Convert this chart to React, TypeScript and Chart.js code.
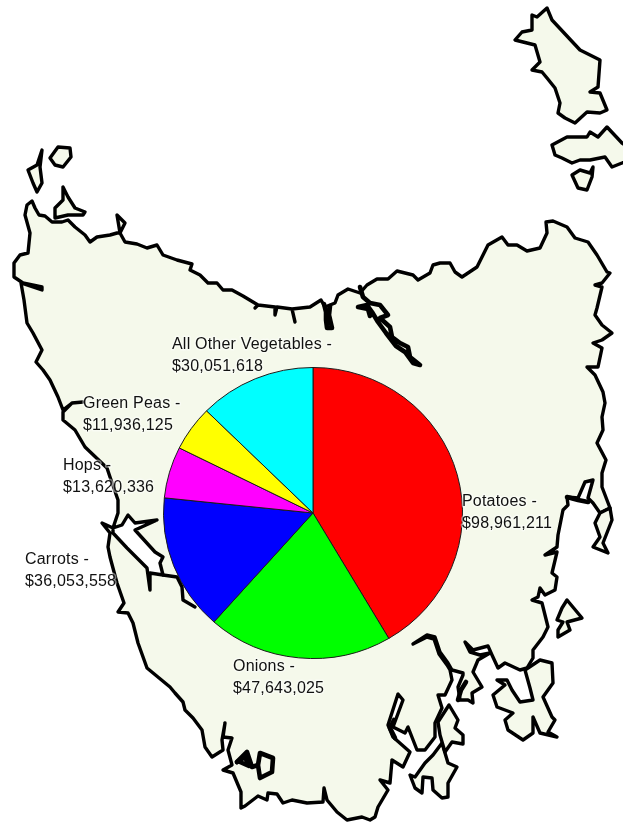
import React, { useEffect, useRef } from "react";
import { Chart, registerables } from "chart.js";

Chart.register(...registerables);

const categories = ["Potatoes", "Onions", "Carrots", "Hops", "Green Peas", "All Other Vegetables"];
const seriesValues = [98961211, 47643025, 36053558, 13620336, 11936125, 30051618];
const sliceColors = ["#ff0000", "#00ff00", "#0000ff", "#ff00ff", "#ffff00", "#00ffff"];
const labelAnchors: [number, number][] = [
  [462, 506], [233, 671], [25, 564], [63, 470], [83, 408], [172, 349],
];

type Pt = [number, number];

const mainland: Pt[] = [
  [32,201],[35,208],[39,215],[45,216],[52,222],[62,222],[68,220],[75,227],[85,235],[90,242],[97,237],[110,235],[117,233],[120,233],[125,223],[117,215],[120,233],[125,242],[137,244],[147,248],[157,245],[163,255],[177,260],[192,264],[190,270],[200,275],[208,283],[217,283],[223,290],[232,290],[243,296],[258,305],[255,308],[258,305],[275,307],[275,315],[277,307],[292,309],[295,322],[292,309],[310,307],[321,300],[325,307],[335,303],[338,295],[348,289],[360,293],[367,285],[377,279],[388,279],[397,271],[413,275],[418,280],[430,273],[433,265],[440,263],[450,263],[455,272],[462,277],[477,267],[488,245],[502,237],[508,245],[517,245],[527,251],[540,248],[547,233],[546,222],[553,221],[567,227],[575,238],[588,242],[597,255],[607,272],[610,273],[602,283],[595,285],[602,287],[597,308],[595,315],[602,325],[612,333],[602,340],[593,343],[602,348],[598,367],[587,367],[595,375],[603,392],[605,403],[602,417],[603,430],[597,443],[606,460],[602,473],[602,487],[610,508],[600,513],[593,503],[588,498],[593,480],[585,482],[578,498],[567,497],[568,505],[563,510],[558,535],[557,547],[545,555],[557,552],[552,573],[557,577],[555,590],[545,595],[540,588],[538,597],[532,600],[542,603],[548,627],[543,637],[533,650],[533,658],[527,668],[520,670],[505,663],[498,668],[492,655],[488,646],[473,650],[465,642],[470,652],[480,655],[490,653],[478,660],[473,672],[482,687],[472,693],[473,703],[468,700],[460,700],[458,687],[463,675],[463,673],[452,670],[448,663],[440,652],[435,637],[427,635],[413,644],[427,637],[434,639],[439,654],[447,665],[450,670],[452,680],[445,695],[438,695],[442,708],[435,723],[435,737],[425,750],[417,750],[408,727],[405,733],[393,727],[403,700],[398,694],[388,725],[393,737],[410,752],[403,767],[392,760],[390,783],[380,780],[388,790],[378,807],[375,817],[370,820],[362,817],[347,820],[337,812],[327,800],[324,788],[323,802],[307,803],[292,800],[283,803],[277,794],[268,793],[267,800],[258,796],[245,806],[241,808],[241,792],[233,773],[223,770],[232,765],[228,750],[232,738],[223,737],[225,723],[222,740],[223,750],[212,757],[205,747],[202,730],[193,718],[185,710],[183,702],[175,693],[170,687],[147,668],[138,643],[133,623],[128,613],[118,612],[124,603],[117,583],[110,557],[108,547],[110,533],[102,523],[113,528],[113,533],[127,548],[147,568],[150,590],[150,573],[163,575],[160,563],[163,557],[155,552],[135,530],[157,520],[135,523],[128,515],[122,525],[113,528],[118,513],[118,500],[110,477],[107,468],[85,447],[75,430],[63,420],[63,412],[72,403],[83,402],[72,403],[63,410],[58,397],[50,380],[43,370],[36,362],[42,350],[33,333],[27,323],[24,300],[21,283],[42,290],[42,287],[23,283],[14,277],[14,263],[20,255],[28,253],[30,233],[25,215],[27,205],
];

const islands: Pt[][] = [
  [[42,150],[40,167],[42,183],[37,192],[33,183],[28,170],[37,165]],
  [[50,158],[58,147],[70,148],[71,157],[63,167],[55,165]],
  [[63,187],[63,200],[55,208],[55,218],[68,215],[83,215],[85,212],[75,208],[68,197]],
  [[547,8],[552,20],[580,50],[600,60],[598,87],[590,92],[600,93],[607,110],[600,113],[587,112],[575,123],[565,118],[558,113],[560,103],[555,88],[547,78],[542,72],[532,70],[540,62],[535,45],[523,42],[515,40],[522,32],[532,30],[532,15],[537,17]],
  [[552,145],[567,137],[587,137],[590,132],[598,137],[607,127],[622,143],[640,155],[622,163],[612,167],[605,157],[590,160],[580,160],[572,163],[562,158],[555,155]],
  [[593,167],[590,173],[580,170],[572,175],[578,188],[587,190],[592,177]],
  [[610,508],[612,520],[603,543],[608,553],[593,547],[600,537],[595,523],[600,513]],
  [[567,600],[577,612],[582,618],[567,622],[570,630],[558,637],[558,630],[563,622],[557,620],[562,608]],
  [[442,743],[448,763],[457,767],[448,783],[448,797],[442,798],[433,790],[432,778],[423,777],[422,793],[415,788],[410,775],[415,777],[425,763],[433,755]],
  [[449,705],[458,720],[455,728],[463,735],[463,744],[452,742],[445,752],[440,735],[438,722]],
  [[497,680],[507,680],[512,690],[520,702],[533,700],[530,688],[525,670],[540,660],[552,663],[553,683],[543,697],[552,717],[555,720],[548,732],[557,737],[540,733],[533,717],[533,733],[523,740],[508,730],[505,720],[513,713],[497,707],[493,695],[505,685]],
];

const thinInlets: Pt[][] = [
  [[163,575],[177,577],[182,587],[183,600],[195,607]],
];

const thickInlets: Pt[][] = [
  [[360,287],[363,297],[370,303],[380,305],[388,315],[380,318],[390,327],[392,337],[400,343],[408,347],[410,357],[420,365],[413,363],[405,352],[396,346],[386,333],[378,322],[372,312],[367,305],[358,307],[368,309],[370,316]],
  [[324,304],[326,312],[326,320],[327,328],[332,328],[329,315],[330,306]],
  [[237,762],[247,752],[252,767],[258,765],[260,753],[273,758],[272,772],[260,778],[258,765]],
  [[237,762],[245,757],[249,766],[240,762]],
  [[458,700],[461,690],[466,682]],
  [[567,497],[578,500],[588,502]],
  [[394,720],[390,728],[395,738]],
];

const pieYScale = 292 / 300;

function trace(ctx: CanvasRenderingContext2D, pts: Pt[]) {
  ctx.beginPath();
  pts.forEach(([x, y], i) => (i ? ctx.lineTo(x, y) : ctx.moveTo(x, y)));
}

const mapPlugin = {
  id: "tasmaniaMap",
  beforeDatasetsDraw(chart: Chart) {
    const ctx = chart.ctx;
    ctx.save();
    ctx.lineJoin = "round";
    ctx.lineCap = "round";
    ctx.lineWidth = 3.4;
    ctx.strokeStyle = "#000000";
    ctx.fillStyle = "#f5f9eb";
    for (const poly of [mainland, ...islands]) {
      trace(ctx, poly);
      ctx.closePath();
      ctx.fill();
      ctx.stroke();
    }
    for (const line of thinInlets) {
      trace(ctx, line);
      ctx.stroke();
    }
    ctx.lineWidth = 4.6;
    for (const line of thickInlets) {
      trace(ctx, line);
      ctx.stroke();
    }
    ctx.restore();
    const { top, bottom } = chart.chartArea;
    const cy = (top + bottom) / 2;
    ctx.save();
    ctx.translate(0, cy);
    ctx.scale(1, pieYScale);
    ctx.translate(0, -cy);
  },
};

const labelPlugin = {
  id: "sliceLabels",
  afterDatasetsDraw(chart: Chart) {
    const ctx = chart.ctx;
    ctx.restore();
    ctx.save();
    ctx.font = '16px "Liberation Sans", Arial, sans-serif';
    (ctx as any).letterSpacing = "0.2px";
    ctx.textAlign = "left";
    ctx.textBaseline = "alphabetic";
    categories.forEach((name, i) => {
      const [x, y] = labelAnchors[i];
      const lines = [`${name} -`, `$${seriesValues[i].toLocaleString("en-US")}`];
      lines.forEach((text, j) => {
        const ty = y + j * 22;
        ctx.lineWidth = 3;
        ctx.lineJoin = "round";
        ctx.strokeStyle = "rgba(255,255,255,0.45)";
        ctx.strokeText(text, x, ty);
        ctx.fillStyle = "#111111";
        ctx.fillText(text, x, ty);
      });
    });
    ctx.restore();
  },
};

export default function App() {
  const ref = useRef<HTMLCanvasElement | null>(null);
  useEffect(() => {
    if (!ref.current) return;
    const chart = new Chart(ref.current, {
      type: "pie",
      data: {
        labels: categories,
        datasets: [{
          data: seriesValues,
          backgroundColor: sliceColors,
          borderColor: "#1a1a1a",
          borderWidth: 1,
        }],
      },
      options: {
        responsive: false,
        animation: false,
        layout: { padding: { left: 163, right: 160, top: 363, bottom: 160 } },
        plugins: { legend: { display: false }, tooltip: { enabled: false } },
      },
      plugins: [mapPlugin, labelPlugin],
    } as any);
    return () => chart.destroy();
  }, []);
  return (
    <canvas
      ref={ref}
      width={623}
      height={823}
      style={{ position: "absolute", left: 0, top: 0, display: "block", background: "#ffffff" }}
    />
  );
}
